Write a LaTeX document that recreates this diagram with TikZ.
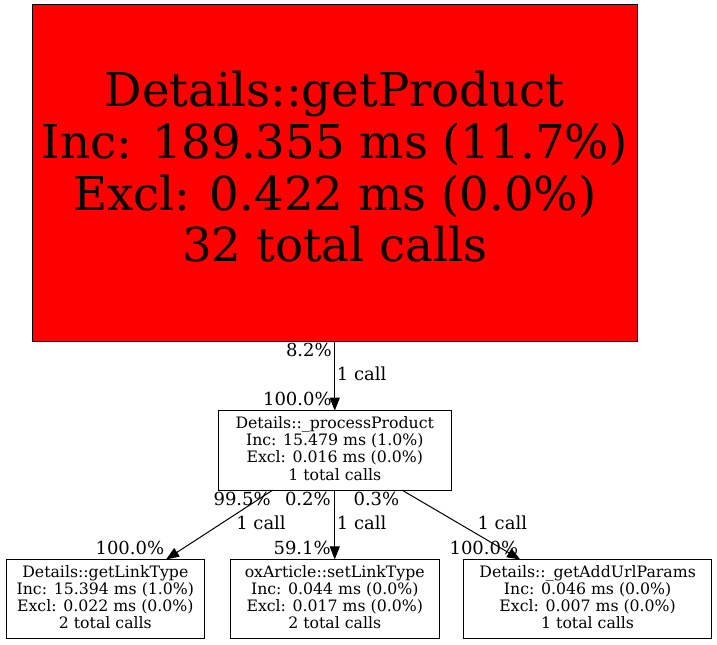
\documentclass[tikz,border=0pt]{standalone}
\usepackage{fontspec}
\setmainfont{DejaVu Serif}
\usetikzlibrary{positioning,calc,arrows.meta}

\begin{document}
\begin{tikzpicture}[x=0.75pt,y=-0.75pt,
  func/.style={draw, rectangle, line width=0.75pt, inner sep=0pt, outer sep=0pt, minimum height=59.5pt, align=center, font=\fontsize{11.8}{12.9}\selectfont, text height=48.1pt, text depth=3.6pt},
  bigfunc/.style={func, fill=red, minimum width=454.1pt, minimum height=252pt, font=\fontsize{35}{38.75}\selectfont, text height=143.2pt, text depth=9.75pt},
  call/.style={line width=0.75pt, -{Triangle[length=9.75pt,width=7.5pt]}},
  pct/.style={inner sep=0pt, font=\fontsize{13.5}{16}\selectfont}]
\useasboundingbox (0,0) rectangle (717,645);
\node[bigfunc] (getProduct) at (334.75,173) {Details::getProduct\\Inc: 189.355 ms (11.7\%)\\Excl: 0.422 ms (0.0\%)\\32 total calls};
\node[func, minimum width=174.75pt, below=52.3pt of getProduct] (processProduct) {Details::\_processProduct\\Inc: 15.479 ms (1.0\%)\\Excl: 0.016 ms (0.0\%)\\1 total calls};
\node[func, minimum width=157pt, below=52pt of processProduct] (setLinkType) {oxArticle::setLinkType\\Inc: 0.044 ms (0.0\%)\\Excl: 0.017 ms (0.0\%)\\2 total calls};
\node[func, minimum width=148.9pt, left=19.1pt of setLinkType] (getLinkType) {Details::getLinkType\\Inc: 15.394 ms (1.0\%)\\Excl: 0.022 ms (0.0\%)\\2 total calls};
\node[func, minimum width=186.3pt, right=18pt of setLinkType] (getAddUrlParams) {Details::\_getAddUrlParams\\Inc: 0.046 ms (0.0\%)\\Excl: 0.007 ms (0.0\%)\\1 total calls};
\draw[call] (getProduct) -- (processProduct);
\draw[call] ($(processProduct.south west)+(54.5,0)$) -- ($(getLinkType.north east)+(-38.5,0)$);
\draw[call] (processProduct) -- (setLinkType);
\draw[call] ($(processProduct.south east)+(-49.3,0)$) -- ($(getAddUrlParams.north west)+(56.7,0)$);
\node[pct, anchor=base east] (tailA) at (332,356.7) {8.2\%};
\node[pct, anchor=base west] (callA) at (336.7,380.7) {1 call};
\node[pct, anchor=base east] (headA) at (332,405) {100.0\%};
\node[pct, anchor=base east] (tailB) at (271,505.7) {99.5\%};
\node[pct, anchor=base west] (callB) at (236,529.3) {1 call};
\node[pct, anchor=base east] (headB) at (164.5,554) {100.0\%};
\node[pct, anchor=base east] (tailC) at (331,505.7) {0.2\%};
\node[pct, anchor=base west] (callC) at (336.7,529.3) {1 call};
\node[pct, anchor=base east] (headC) at (331,554) {59.1\%};
\node[pct, anchor=base west] (tailD) at (353.3,505.7) {0.3\%};
\node[pct, anchor=base west] (callD) at (477.3,529.3) {1 call};
\node[pct, anchor=base west] (headD) at (449.3,554) {100.0\%};
\end{tikzpicture}
\end{document}
